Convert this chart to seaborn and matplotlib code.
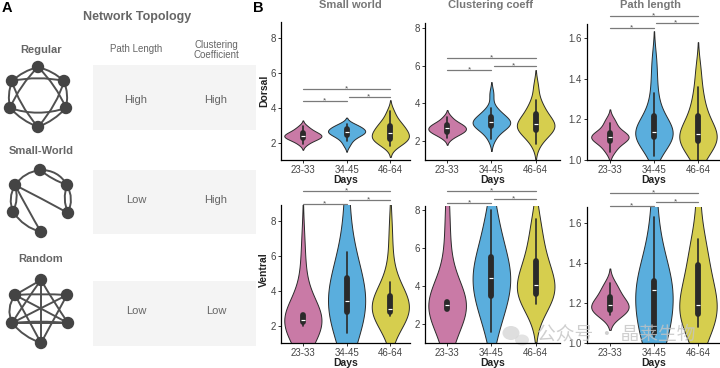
import numpy as np
import pandas as pd
import matplotlib
matplotlib.use("Agg")
import matplotlib.pyplot as plt
import matplotlib.transforms as mtrans
import seaborn as sns
from matplotlib.path import Path
from matplotlib.patches import PathPatch, Rectangle, Circle, Ellipse

sns.set_theme(style="white")
plt.rcParams['font.family'] = ['Liberation Sans', 'DejaVu Sans']

W, H = 720, 368

# ---------------- data ----------------
days = ["23-33", "34-45", "46-64"]
palette = ["#C97AA6", "#5AAEDD", "#D6CE4E"]

# Dorsal
sw_d_2333 = [1.9, 2.05, 2.15, 2.2, 2.25, 2.3, 2.35, 2.38, 2.4, 2.45, 2.5, 2.55, 2.62, 2.7, 2.8, 2.95]
sw_d_3445 = [1.85, 2.1, 2.25, 2.35, 2.45, 2.5, 2.55, 2.6, 2.62, 2.68, 2.72, 2.78, 2.85, 2.92, 3.0, 3.05]
sw_d_4664 = [1.8, 1.95, 2.05, 2.15, 2.2, 2.28, 2.35, 2.45, 2.55, 2.6, 2.7, 2.85, 2.95, 3.05, 3.2, 3.45, 3.8]

cc_d_2333 = [2.15, 2.3, 2.4, 2.45, 2.5, 2.55, 2.6, 2.65, 2.7, 2.75, 2.8, 2.85, 2.9, 3.0, 3.1, 3.3]
cc_d_3445 = [2.1, 2.4, 2.6, 2.7, 2.8, 2.85, 2.9, 2.95, 3.0, 3.05, 3.1, 3.2, 3.3, 3.4, 3.55, 3.75, 4.5]
cc_d_4664 = [1.85, 2.2, 2.4, 2.5, 2.6, 2.7, 2.78, 2.85, 2.9, 2.95, 3.1, 3.25, 3.45, 3.6, 3.85, 4.15, 4.9]

pl_d_2333 = [1.04, 1.06, 1.08, 1.09, 1.1, 1.105, 1.11, 1.115, 1.12, 1.125, 1.13, 1.14, 1.16, 1.18, 1.2]
pl_d_3445 = [1.02, 1.06, 1.08, 1.1, 1.11, 1.12, 1.125, 1.13, 1.135, 1.14, 1.15, 1.16, 1.18, 1.2,
             1.23, 1.27, 1.33, 1.41, 1.5]
pl_d_4664 = [1.0, 1.04, 1.06, 1.08, 1.09, 1.1, 1.11, 1.12, 1.125, 1.13, 1.15, 1.17, 1.2, 1.22,
             1.26, 1.3, 1.36, 1.45]

# Ventral
sw_v_2333 = [0.5, 1.0, 1.3, 1.5, 1.95, 2.15, 2.2, 2.22, 2.25, 2.27, 2.28, 2.3, 2.32, 2.35, 2.4,
             2.45, 2.5, 2.55, 2.6, 2.68, 3.3, 3.9, 4.6, 5.6, 7.0]
sw_v_3445 = [1.55, 2.0, 2.3, 2.5, 2.7, 2.9, 3.1, 3.3, 3.35, 3.4, 3.6, 3.9, 4.2, 4.5, 4.9, 5.5,
             6.2, 8.0, 10.5]
sw_v_4664 = [2.52, 2.6, 2.65, 2.7, 2.75, 2.8, 2.85, 2.88, 2.9, 2.92, 3.05, 3.2, 3.4, 3.55, 3.8,
             4.1, 4.5, 5.8, 7.5]

cc_v_2333 = [0.2, 0.9, 1.6, 2.2, 2.72, 2.75, 2.8, 2.85, 2.9, 2.95, 2.98, 3.0, 3.0, 3.02, 3.05,
             3.08, 3.1, 3.12, 3.15, 3.18, 3.8, 4.5, 5.3, 6.2, 7.3, 8.6]
cc_v_3445 = [1.6, 2.2, 2.6, 3.0, 3.3, 3.6, 3.9, 4.1, 4.3, 4.4, 4.6, 4.9, 5.2, 5.4, 5.6, 6.1,
             6.7, 7.3, 8.0]
cc_v_4664 = [3.04, 3.1, 3.2, 3.3, 3.5, 3.7, 3.85, 3.95, 4.0, 4.05, 4.3, 4.6, 4.9, 5.2, 5.4, 5.8,
             6.4, 7.0, 7.5]

pl_v_2333 = [1.138, 1.145, 1.15, 1.16, 1.17, 1.18, 1.185, 1.19, 1.2, 1.21, 1.225, 1.24, 1.26,
             1.28, 1.3]
pl_v_3445 = [1.03, 1.04, 1.04, 1.042, 1.045, 1.05, 1.12, 1.2, 1.24, 1.26, 1.265, 1.27, 1.28,
             1.29, 1.3, 1.31, 1.38, 1.45, 1.52, 1.63, 1.85]
pl_v_4664 = [1.08, 1.1, 1.12, 1.13, 1.14, 1.16, 1.17, 1.18, 1.19, 1.19, 1.24, 1.3, 1.36, 1.4,
             1.44, 1.48, 1.52, 1.78]

# significance bracket heights (pairs 23-33/34-45, 34-45/46-64, 23-33/46-64)
sig_sw_d = [4.40, 4.63, 5.09]
sig_cc_d = [5.74, 5.95, 6.42]
sig_pl_d = [1.649, 1.673, 1.707]
sig_sw_v = [8.97, 9.20, 9.71]
sig_cc_v = [8.37, 8.58, 9.00]
sig_pl_v = [1.683, 1.707, 1.750]

titles = ["Small world", "Clustering coeff", "Path length"]
int_ticks = [2, 4, 6, 8]
pl_ticks = [1.0, 1.2, 1.4, 1.6]

# ---------------- figure ----------------
fig = plt.figure(figsize=(W / 100, H / 100), dpi=100)
fig.patch.set_facecolor("white")


def px_rect(l, t, r, b):
    return [l / W, 1 - b / H, (r - l) / W, (b - t) / H]


def ftext(x, y, s, **kw):
    fig.text(x / W, 1 - y / H, s, **kw)


# background / panel A axes in pixel coordinates
ax0 = fig.add_axes([0, 0, 1, 1], zorder=0)
ax0.set_xlim(0, W)
ax0.set_ylim(H, 0)
ax0.axis("off")

for (t, b) in [(65, 130), (170, 234), (281, 346)]:
    ax0.add_patch(Rectangle((93, t), 256 - 93, b - t, color="#F4F4F4", lw=0))

EDGE = dict(color="#505050", lw=1.4, fill=False, capstyle="round")


def curve(p1, p2, ctrl):
    path = Path([p1, ctrl, p2], [Path.MOVETO, Path.CURVE3, Path.CURVE3])
    ax0.add_patch(PathPatch(path, **EDGE))


def bulge(p1, p2, center, k):
    mx, my = (p1[0] + p2[0]) / 2, (p1[1] + p2[1]) / 2
    return (mx + k * (mx - center[0]), my + k * (my - center[1]))


def nodes(pts):
    for p in pts:
        ax0.add_patch(Circle(p, 6.2, color="#444444", lw=0, zorder=5))


# Regular ring lattice
R = [(38, 67), (64, 81), (66, 108), (38, 127), (10, 108), (12, 81)]
cR = (38, 95)
for i in range(6):
    a, b = R[i], R[(i + 1) % 6]
    curve(a, b, bulge(a, b, cR, 0.15))
    c = R[(i + 2) % 6]
    m = R[(i + 1) % 6]
    ctrl = (m[0] + 0.3 * (cR[0] - m[0]), m[1] + 0.3 * (cR[1] - m[1]))
    curve(a, c, ctrl)
nodes(R)

# Small world
T, UR, LR, B, LL, UL = (40, 170), (67, 185), (68, 213), (41, 232), (13, 212), (15, 185)
cS = (40, 200)
curve(UL, T, bulge(UL, T, cS, 0.25))
curve(T, UR, bulge(T, UR, cS, 0.35))
curve(T, UR, bulge(T, UR, cS, -0.1))
curve(UR, LR, bulge(UR, LR, cS, 0.25))
curve(UR, LR, bulge(UR, LR, cS, -0.2))
curve(UL, LL, bulge(UL, LL, cS, 0.25))
curve(UL, LL, bulge(UL, LL, cS, -0.2))
curve(LL, B, bulge(LL, B, cS, 0.25))
curve(UL, B, bulge(UL, B, cS, 0.05))
curve(UL, LR, bulge(UL, LR, cS, 0.3))
nodes([T, UR, LR, B, LL, UL])

# Random
T, UL, UR, LL, LR, B = (41, 280), (15, 295), (67, 295), (12, 323), (68, 323), (41, 343)
cN = (40, 312)
for a, b, k in [(T, LL, 0.05), (T, LR, -0.05), (T, B, 0.0), (UL, LR, 0.05), (UL, B, 0.0),
                (UR, LL, 0.05), (UR, B, 0.0), (LL, LR, 0.0), (LL, LR, -0.25), (UL, LL, 0.3),
                (LL, B, 0.2), (UL, UR, 0.1), (T, UL, 0.0)]:
    curve(a, b, bulge(a, b, cN, k))
nodes([T, UL, UR, LL, LR, B])

GRAYTXT = "#666666"
ftext(2, 1, "A", fontsize=10.5, fontweight="bold", color="black", ha="left", va="top")
ftext(253, 1, "B", fontsize=10.5, fontweight="bold", color="black", ha="left", va="top")
ftext(137, 17, "Network Topology", fontsize=9, fontweight="bold", color=GRAYTXT, ha="center", va="center")
ftext(41, 50, "Regular", fontsize=8, fontweight="bold", color=GRAYTXT, ha="center", va="center")
ftext(41, 151, "Small-World", fontsize=8, fontweight="bold", color=GRAYTXT, ha="center", va="center")
ftext(41, 259, "Random", fontsize=8, fontweight="bold", color=GRAYTXT, ha="center", va="center")
ftext(136, 49, "Path Length", fontsize=7, color=GRAYTXT, ha="center", va="center")
ftext(216, 50, "Clustering\nCoefficient", fontsize=7, color=GRAYTXT, ha="center", va="center",
      linespacing=1.05)
for y, v1, v2 in [(100, "High", "High"), (200, "Low", "High"), (311, "Low", "Low")]:
    ftext(136, y, v1, fontsize=8, color=GRAYTXT, ha="center", va="center")
    ftext(216, y, v2, fontsize=8, color=GRAYTXT, ha="center", va="center")

# ---------------- panel B violins ----------------
panels = [
    (0, 0, [sw_d_2333, sw_d_3445, sw_d_4664], (1.0, 8.9), int_ticks, sig_sw_d, (281, 22, 410, 160), 1.0),
    (0, 1, [cc_d_2333, cc_d_3445, cc_d_4664], (1.0, 8.25), int_ticks, sig_cc_d, (425, 23, 560, 160), 1.0),
    (0, 2, [pl_d_2333, pl_d_3445, pl_d_4664], (1.0, 1.67), pl_ticks, sig_pl_d, (587, 24, 720, 160), 1.0),
    (1, 0, [sw_v_2333, sw_v_3445, sw_v_4664], (1.0, 8.9), int_ticks, sig_sw_v, (281, 205, 410, 343), 1.6),
    (1, 1, [cc_v_2333, cc_v_3445, cc_v_4664], (1.0, 8.2), int_ticks, sig_cc_v, (425, 206, 560, 343), 1.35),
    (1, 2, [pl_v_2333, pl_v_3445, pl_v_4664], (1.0, 1.68), pl_ticks, sig_pl_v, (587, 207, 720, 343), 1.25),
]
xlims = [(-0.5, 2.45), (-0.5, 2.55), (-0.52, 2.5)]
title_x = [350, 490, 650]
star_shift = mtrans.ScaledTranslation(0, -1.0 / 72, fig.dpi_scale_trans)

for row, col, groups, ylim, yt, sig, rect, bwa in panels:
    ax = fig.add_axes(px_rect(*rect), zorder=2)
    ax.set_facecolor("none")
    df = pd.DataFrame({
        "Days": np.concatenate([[d] * len(g) for d, g in zip(days, groups)]),
        "value": np.concatenate(groups),
    })
    sns.violinplot(data=df, x="Days", y="value", hue="Days", order=days, hue_order=days,
                   palette=palette, saturation=1, legend=False, ax=ax,
                   density_norm="width", width=0.85, cut=2, bw_adjust=bwa, linewidth=0.7,
                   linecolor="#2a2a2a", inner="box",
                   inner_kws=dict(box_width=4.2, whis_width=1.2))
    ax.set_ylim(*ylim)
    ax.set_xlim(*xlims[col])
    ax.set_yticks(yt)
    if yt is pl_ticks:
        ax.set_yticklabels([f"{v:.1f}" for v in yt])
    else:
        ax.set_yticklabels([str(v) for v in yt])
    for s in ["top", "right"]:
        ax.spines[s].set_visible(False)
    for s in ["left", "bottom"]:
        ax.spines[s].set_color("black")
        ax.spines[s].set_linewidth(0.9)
    ax.tick_params(axis="both", which="both", length=2.5, width=0.7, color="#333333",
                   labelsize=7, labelcolor="#444444", pad=1, left=True, bottom=True)
    ax.set_xlabel("Days", fontsize=7.5, fontweight="bold", color="#222222", labelpad=0)
    ax.set_ylabel("")
    if row == 0:
        ftext(title_x[col], 0.3, titles[col], fontsize=8, fontweight="bold", color="#777777",
              ha="center", va="top")
    # significance brackets
    for (i, j), yv in zip([(0, 1), (1, 2), (0, 2)], sig):
        x1 = i + (0.05 if i == 1 else 0)
        ax.plot([x1, j], [yv, yv], color="#7a7a7a", lw=0.9, clip_on=False, zorder=6)
        ax.text((i + j) / 2, yv, "*", fontsize=6, color="#555555",
                ha="center", va="baseline", clip_on=False,
                transform=ax.transData + star_shift)

ftext(264, 91, "Dorsal", fontsize=7.5, fontweight="bold", color="#222222", rotation=90,
      ha="center", va="center")
ftext(264, 270, "Ventral", fontsize=7.5, fontweight="bold", color="#222222", rotation=90,
      ha="center", va="center")

# watermark
ax0.add_patch(Ellipse((511, 333), 17, 14, color="#d0d0d0", alpha=0.7, lw=0, zorder=8))
ax0.add_patch(Ellipse((522, 340), 14, 11, color="#d8d8d8", alpha=0.7, lw=0, zorder=8))
ftext(537, 334, "公众号 · 晶莱生物", fontsize=13.5, color="#c4c4c4", alpha=0.8,
      family=["Noto Sans CJK SC", "DejaVu Sans"], ha="left", va="center", zorder=10)

fig.savefig("out.png", dpi=100, facecolor="white")
